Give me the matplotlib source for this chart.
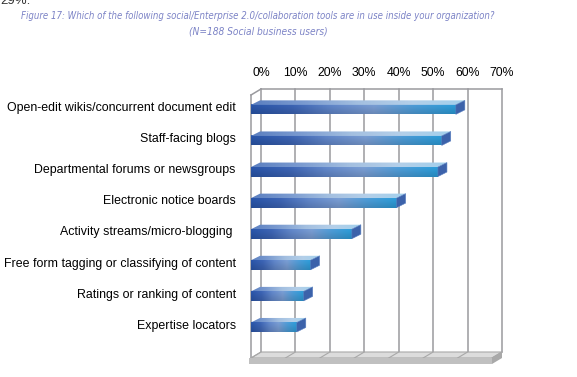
import numpy as np
import matplotlib
matplotlib.use("Agg")
import matplotlib.pyplot as plt
from matplotlib.colors import LinearSegmentedColormap
from matplotlib.patches import Polygon
import matplotlib.transforms as mtrans

# data
tools = [
    "Open-edit wikis/concurrent document edit",
    "Staff-facing blogs",
    "Departmental forums or newsgroups",
    "Electronic notice boards",
    "Activity streams/micro-blogging ",
    "Free form tagging or classifying of content",
    "Ratings or ranking of content",
    "Expertise locators",
]
share = [59.5, 55.4, 54.3, 42.3, 29.3, 17.3, 15.3, 13.3]
ticks = [0, 10, 20, 30, 40, 50, 60, 70]
tick_labels = ["0%", "10%", "20%", "30%", "40%", "50%", "60%", "70%"]

W, H = 577, 377
fig = plt.figure(figsize=(W / 100, H / 100), dpi=100)

# front plane of the 3D box
ax_l, ax_r, ax_t, ax_b = 251, 492, 95, 358
ax = fig.add_axes([ax_l / W, 1 - ax_b / H, (ax_r - ax_l) / W, (ax_b - ax_t) / H])
xmin, xmax = 0, 70
ymin, ymax = -0.99, 7.47
ax.set_xlim(xmin, xmax)
ax.set_ylim(ymin, ymax)
for s in ax.spines.values():
    s.set_visible(False)

# pixel -> data helpers (for the depth offsets only)
px_x = (xmax - xmin) / (ax_r - ax_l)
px_y = (ymax - ymin) / (ax_b - ax_t)

wdx, wdy = 10 * px_x, 6 * px_y      # wall depth
bdx, bdy = 9 * px_x, 4.5 * px_y     # bar depth
slab = 6 * px_y
grid_c = "#9a9a9e"

# back wall gridlines + edges
for t in ticks:
    ax.plot([t + wdx, t + wdx], [ymin + wdy, ymax + wdy], color=grid_c, lw=1.1,
            clip_on=False, zorder=1)
ax.plot([xmin + wdx, xmax + wdx], [ymax + wdy, ymax + wdy], color=grid_c, lw=1.1,
        clip_on=False, zorder=1)
# left wall
ax.plot([xmin, xmin], [ymin, ymax], color=grid_c, lw=1.1, clip_on=False, zorder=1)
ax.plot([xmin, xmin + wdx], [ymax, ymax + wdy], color=grid_c, lw=1.1, clip_on=False, zorder=1)

# floor
floor_top = Polygon([(xmin, ymin), (xmax, ymin), (xmax + wdx, ymin + wdy), (xmin + wdx, ymin + wdy)],
                    closed=True, facecolor="#dcdcdc", edgecolor="#a8a8a8", lw=0.8,
                    clip_on=False, zorder=2)
ax.add_patch(floor_top)
for t in ticks:
    ax.plot([t, t + wdx], [ymin, ymin + wdy], color="#a8a8a8", lw=0.8, clip_on=False, zorder=2)
floor_front = Polygon([(xmin - 0.6, ymin), (xmax, ymin), (xmax, ymin - slab), (xmin - 0.6, ymin - slab)],
                      closed=True, facecolor="#c0c0c0", edgecolor="none", clip_on=False, zorder=2)
ax.add_patch(floor_front)
floor_side = Polygon([(xmax, ymin), (xmax + wdx, ymin + wdy), (xmax + wdx, ymin + wdy - slab),
                      (xmax, ymin - slab)],
                     closed=True, facecolor="#a9a9a9", edgecolor="none", clip_on=False, zorder=2)
ax.add_patch(floor_side)

# bar colours
front_cmap = LinearSegmentedColormap.from_list(
    "front", ["#2852a3", "#3a60ad", "#5e82c2", "#7597cb", "#4a96cf", "#2a96d0"])
top_cmap = LinearSegmentedColormap.from_list(
    "top", ["#5b7fc0", "#7b9bd0", "#a3bfe0", "#b4cfe9", "#a2d0ec"])

ypos = np.arange(len(tools))[::-1]
h = 9.5 * px_y
for yv, v in zip(ypos, share):
    n = 200
    g = np.linspace(0, 1, n)
    # front face
    rgb = front_cmap(g)[:, :3]
    shade = np.linspace(1.05, 0.9, 12)[:, None, None]
    img = np.clip(rgb[None, :, :] * shade, 0, 1)
    ax.imshow(img, extent=(0, v, yv - h / 2, yv + h / 2), aspect="auto",
              interpolation="bilinear", zorder=4, origin="upper")
    # top face
    top_poly = Polygon([(0, yv + h / 2), (v, yv + h / 2), (v + bdx, yv + h / 2 + bdy),
                        (bdx, yv + h / 2 + bdy)], closed=True, facecolor="none",
                       edgecolor="none", transform=ax.transData)
    ax.add_patch(top_poly)
    timg = top_cmap(g)[:, :3][None, :, :]
    im = ax.imshow(timg, extent=(0, v + bdx, yv + h / 2, yv + h / 2 + bdy), aspect="auto",
                   interpolation="bilinear", zorder=4)
    im.set_clip_path(top_poly)
    # end face
    ax.add_patch(Polygon([(v, yv - h / 2), (v, yv + h / 2), (v + bdx, yv + h / 2 + bdy),
                          (v + bdx, yv - h / 2 + bdy)], closed=True,
                         facecolor="#3c62aa", edgecolor="#5a80c0", lw=0.4, zorder=5))

ax.set_xlim(xmin, xmax)
ax.set_ylim(ymin, ymax)

# axes ticks
ax.xaxis.tick_top()
ax.set_xticks(ticks)
ax.set_xticklabels(tick_labels, fontsize=8.8, family="Liberation Sans")
ax.tick_params(axis="x", length=0, pad=11.5)
ax.set_yticks(ypos)
ax.set_yticklabels(tools, fontsize=8.9, family="Liberation Sans")
ax.tick_params(axis="y", length=0, pad=11)

shift_x = mtrans.ScaledTranslation(10 / 100, 0, fig.dpi_scale_trans)
for lab in ax.get_xticklabels():
    lab.set_transform(lab.get_transform() + shift_x)
shift_y = mtrans.ScaledTranslation(0, 3 / 100, fig.dpi_scale_trans)
for lab in ax.get_yticklabels():
    lab.set_transform(lab.get_transform() + shift_y)

# title (condensed italic in the reference; shrink to about the same width if no narrow face)
title_kw = dict(ha="center", va="center", style="italic", color="#7c83c6",
                family=["Liberation Sans Narrow", "DejaVu Sans"], fontstretch="condensed")
t1 = fig.text(257.5 / W, 1 - 16 / H,
              "Figure 17: Which of the following social/Enterprise 2.0/collaboration tools are in use inside your organization?",
              fontsize=8, **title_kw)
t2 = fig.text(258 / W, 1 - 31 / H, "(N=188 Social business users)", fontsize=8, **title_kw)
fig.canvas.draw()
wpx = t1.get_window_extent().width
size = 8 * 475 / wpx
t1.set_fontsize(size)
t2.set_fontsize(size * 1.05)

fig.text(0, 1 - 4 / H, "29%.", ha="left", va="baseline", fontsize=9.5,
         family="Liberation Sans", color="#333333")

fig.savefig("out.png", dpi=100)
